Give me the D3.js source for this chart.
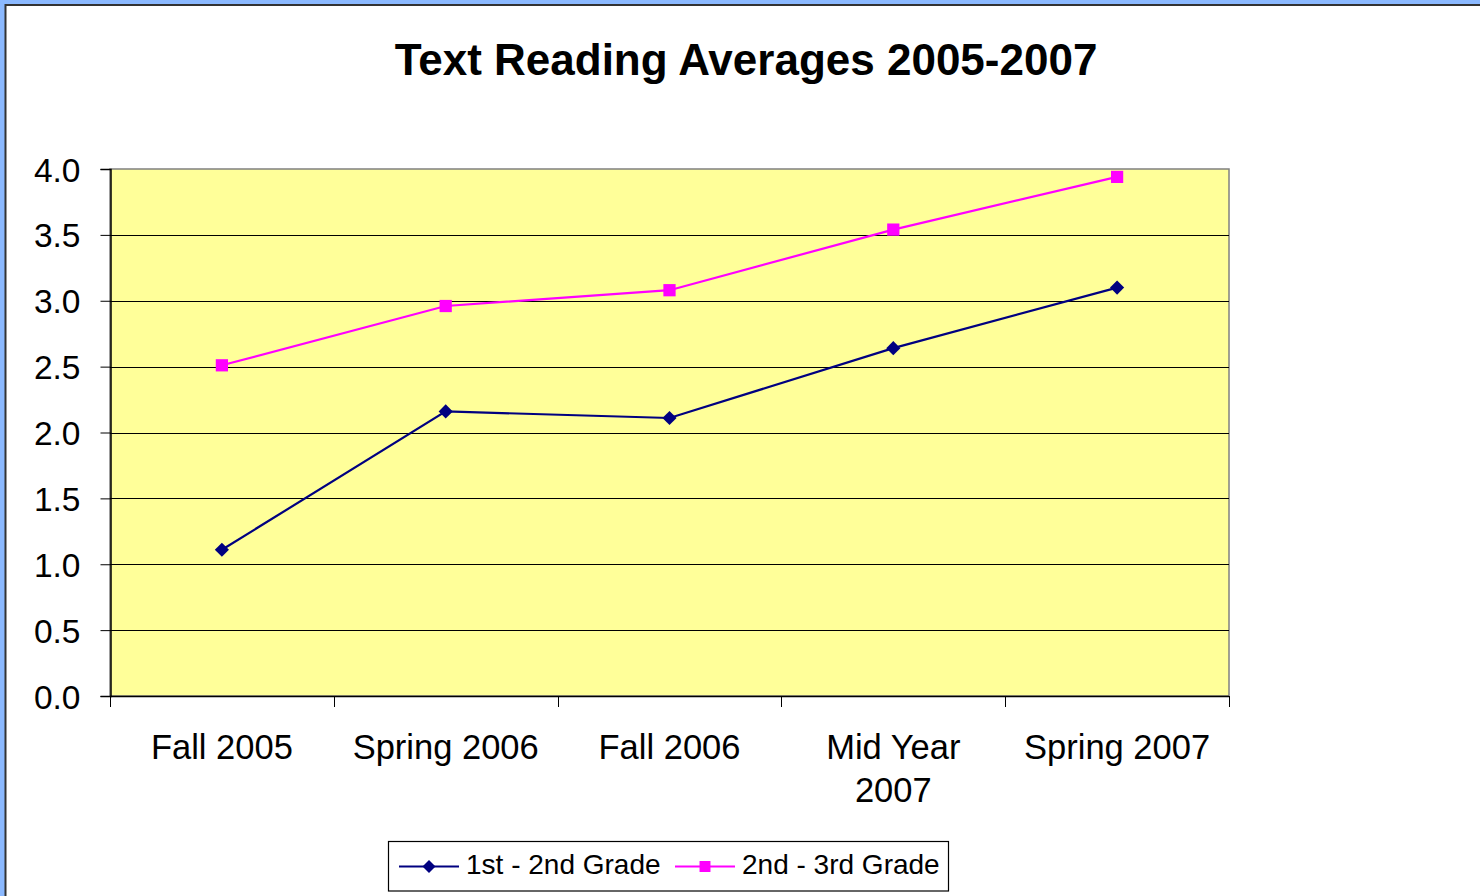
<!DOCTYPE html>
<html>
<head>
    <meta charset="utf-8">
    <script src="https://d3js.org/d3.v7.min.js"></script>
    <style>
        body { margin: 0; background: white; }
        text { font-family: "Liberation Sans", Arial, sans-serif; fill: #000; }
    </style>
</head>
<body>
    <div id="my_dataviz"></div>

    <script>
        // data
        var categories = ["Fall 2005", "Spring 2006", "Fall 2006", "Mid Year 2007", "Spring 2007"];
        var tickLabels = ["Fall 2005", "Spring 2006", "Fall 2006", "Mid Year\n2007", "Spring 2007"];
        var grade12 = [1.11, 2.16, 2.11, 2.64, 3.10];
        var grade23 = [2.51, 2.96, 3.08, 3.54, 3.94];
        var yTicks = [0, 0.5, 1, 1.5, 2, 2.5, 3, 3.5, 4];
        var seriesNames = ["1st - 2nd Grade", "2nd - 3rd Grade"];

        var W = 1480, H = 896;
        var plot = { left: 110, right: 1229, top: 169, bottom: 696 };

        var svg = d3.select("#my_dataviz")
            .append("svg")
            .attr("width", W)
            .attr("height", H);

        // frame: blue band + dark border
        svg.append("rect").attr("width", W).attr("height", H).attr("fill", "#8bb9ff");
        svg.append("rect")
            .attr("x", 5.5).attr("y", 5)
            .attr("width", W + 20).attr("height", H + 20)
            .attr("fill", "white")
            .attr("stroke", "#333")
            .attr("stroke-width", 2);

        // title
        svg.append("text")
            .attr("x", 746)
            .attr("y", 75)
            .attr("text-anchor", "middle")
            .style("font-size", "44px")
            .style("font-weight", "bold")
            .text("Text Reading Averages 2005-2007");

        var x = d3.scaleBand()
            .domain(categories)
            .range([plot.left, plot.right])
            .padding(0);

        var y = d3.scaleLinear()
            .domain([0, 4])
            .range([plot.bottom, plot.top]);

        // plot background
        svg.append("rect")
            .attr("x", plot.left).attr("y", plot.top)
            .attr("width", plot.right - plot.left)
            .attr("height", plot.bottom - plot.top)
            .attr("fill", "#ffff99")
            .attr("stroke", "#808080")
            .attr("stroke-width", 1.5);

        // gridlines
        svg.append("g")
            .selectAll("line")
            .data(yTicks.slice(1, -1))
            .enter()
            .append("line")
            .attr("x1", plot.left).attr("x2", plot.right)
            .attr("y1", function (d) { return Math.round(y(d)) + 0.5; })
            .attr("y2", function (d) { return Math.round(y(d)) + 0.5; })
            .attr("stroke", "#000")
            .attr("stroke-width", 1);

        // Y axis
        var yAxis = svg.append("g")
            .attr("transform", "translate(" + (plot.left + 0.5) + ",0)")
            .call(d3.axisLeft(y).tickValues(yTicks).tickFormat(d3.format(".1f")).tickSize(10).tickPadding(20));
        yAxis.select(".domain").attr("stroke", "#000").attr("stroke-width", 1.5);
        yAxis.selectAll(".tick line").attr("stroke", "#000");
        yAxis.selectAll(".tick text")
            .style("font-size", "33.5px")
            .style("font-family", "'Liberation Sans', Arial, sans-serif")
            .attr("fill", "#000")
            .attr("dy", "0.36em");

        // X axis: ticks on band boundaries
        var xAxisG = svg.append("g");
        xAxisG.append("line")
            .attr("x1", plot.left).attr("x2", plot.right)
            .attr("y1", plot.bottom + 0.5).attr("y2", plot.bottom + 0.5)
            .attr("stroke", "#000").attr("stroke-width", 1.5);
        var bounds = categories.map(function (c) { return x(c); }).concat([plot.right]);
        xAxisG.selectAll(".xtick")
            .data(bounds)
            .enter()
            .append("line")
            .attr("class", "xtick")
            .attr("x1", function (d) { return Math.round(d) + 0.5; })
            .attr("x2", function (d) { return Math.round(d) + 0.5; })
            .attr("y1", plot.bottom)
            .attr("y2", plot.bottom + 11)
            .attr("stroke", "#000");

        xAxisG.selectAll(".xlabel")
            .data(categories)
            .enter()
            .append("text")
            .attr("class", "xlabel")
            .attr("text-anchor", "middle")
            .attr("x", function (d) { return x(d) + x.bandwidth() / 2; })
            .attr("y", 759)
            .style("font-size", "34.5px")
            .each(function (d, i) {
                var lines = tickLabels[i].split("\n");
                var t = d3.select(this);
                lines.forEach(function (ln, j) {
                    t.append("tspan")
                        .attr("x", x(d) + x.bandwidth() / 2)
                        .attr("dy", j === 0 ? 0 : 43)
                        .text(ln);
                });
            });

        // lines
        var line = d3.line()
            .x(function (d, i) { return x(categories[i]) + x.bandwidth() / 2; })
            .y(function (d) { return y(d); });

        var series = [
            { name: seriesNames[0], values: grade12, color: "#000080", shape: d3.symbolSquare, rot: 45, size: 100, legendSize: 85 },
            { name: seriesNames[1], values: grade23, color: "#ff00ff", shape: d3.symbolSquare, rot: 0, size: 150, legendSize: 120 }
        ];

        series.forEach(function (s) {
            svg.append("path")
                .datum(s.values)
                .attr("fill", "none")
                .attr("stroke", s.color)
                .attr("stroke-width", 2.2)
                .attr("d", line);

            svg.selectAll(null)
                .data(s.values)
                .enter()
                .append("path")
                .attr("d", d3.symbol().type(s.shape).size(s.size))
                .attr("fill", s.color)
                .attr("transform", function (d, i) {
                    return "translate(" + (x(categories[i]) + x.bandwidth() / 2) + "," + y(d) + ") rotate(" + s.rot + ")";
                });
        });

        // legend
        var legend = svg.append("g");
        legend.append("rect")
            .attr("x", 388.5).attr("y", 841.5)
            .attr("width", 560).attr("height", 49.5)
            .attr("fill", "white")
            .attr("stroke", "#000")
            .attr("stroke-width", 1.2);

        var legendX = [399, 675];
        series.forEach(function (s, i) {
            var lx = legendX[i];
            legend.append("line")
                .attr("x1", lx).attr("x2", lx + 60)
                .attr("y1", 866.5).attr("y2", 866.5)
                .attr("stroke", s.color).attr("stroke-width", 2.2);
            legend.append("path")
                .attr("d", d3.symbol().type(s.shape).size(s.legendSize))
                .attr("fill", s.color)
                .attr("transform", "translate(" + (lx + 30) + ",866.5) rotate(" + s.rot + ")");
            legend.append("text")
                .attr("x", lx + 67)
                .attr("y", 874)
                .style("font-size", "28px")
                .text(s.name);
        });
    </script>
</body>
</html>
